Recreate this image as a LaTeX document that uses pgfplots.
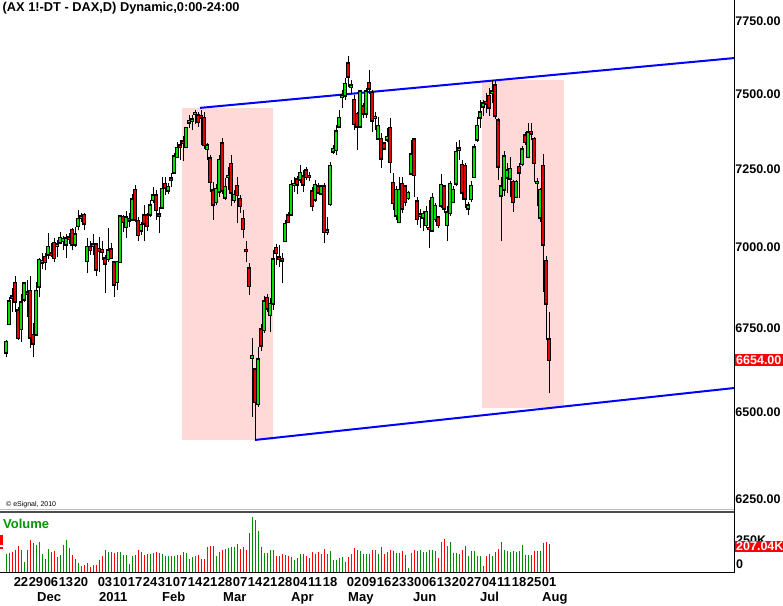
\documentclass[border=0pt]{standalone}
\usepackage{fontspec}
\setmainfont{Liberation Sans}
\usepackage{pgfplots}
\usepackage{pgfplotstable}
\pgfplotsset{compat=1.18}

\definecolor{candG}{RGB}{0,225,0}
\definecolor{candR}{RGB}{232,0,0}
\definecolor{volG}{RGB}{0,140,0}
\definecolor{volR}{RGB}{255,0,0}
\definecolor{shade}{RGB}{255,216,216}
\definecolor{trend}{RGB}{0,0,255}
\definecolor{volText}{RGB}{0,150,0}

\pgfplotstableread{
i o h l c v
0 6677 6714 6661 6707 131
1 6763 6846 6761 6830 143
2 6846 6871 6800 6843 148
3 6887 6909 6800 6832 165
4 6802 6815 6714 6721 190
5 6748 6854 6707 6827 160
6 6838 6892 6828 6885 74
7 6858 6897 6784 6856 160
8 6862 6911 6688 6722 234
9 6728 6766 6661 6704 215
10 6730 6890 6728 6862 197
11 6878 6965 6846 6959 220
12 6953 6981 6930 6956 136
13 6968 6983 6928 6955 99
14 6977 7044 6962 6999 168
15 6979 7012 6970 6977 148
16 7012 7028 6952 6967 155
17 7006 7023 6970 7008 111
18 7015 7047 7012 7028 123
19 7020 7034 6991 7024 197
20 7009 7041 6965 7026 234
21 7030 7045 7010 7027 178
22 7054 7061 6990 7009 123
23 7009 7064 7000 7039 99
24 7068 7117 7053 7088 67
25 7094 7108 7081 7097 42
26 7101 7108 7054 7075 49
27 6957 7028 6918 6999 67
28 6999 7018 6975 6991 37
29 7005 7042 6975 7008 49
30 7007 7012 6910 6930 49
31 6993 7033 6923 6989 91
32 6990 7020 6960 6986 116
33 6963 6975 6857 6950 160
34 6963 7059 6953 6988 148
35 6991 7014 6965 6966 148
36 6950 6955 6846 6885 141
37 6892 6957 6866 6953 148
38 6955 7096 6950 7096 145
39 7095 7102 7049 7081 123
40 7065 7113 7028 7092 123
41 7088 7108 7062 7086 57
42 7088 7169 7085 7150 116
43 7182 7198 7080 7088 123
44 7083 7096 7018 7039 160
45 7054 7081 7040 7069 148
46 7099 7134 7018 7075 123
47 7099 7110 7050 7067 136
48 7104 7150 7095 7131 136
49 7150 7191 7140 7163 141
50 7163 7182 7086 7118 145
51 7103 7127 7044 7101 141
52 7127 7226 7120 7185 136
53 7202 7226 7166 7191 116
54 7182 7205 7170 7191 116
55 7219 7236 7193 7217 121
56 7240 7302 7235 7291 116
57 7291 7340 7285 7318 123
58 7327 7346 7280 7325 123
59 7341 7359 7276 7339 145
60 7324 7390 7320 7384 141
61 7404 7428 7385 7407 99
62 7411 7430 7380 7413 111
63 7433 7446 7400 7435 118
64 7426 7440 7390 7406 123
65 7424 7446 7330 7422 99
66 7417 7440 7316 7330 94
67 7316 7335 7280 7326 185
68 7283 7296 7176 7209 190
69 7179 7209 7086 7137 190
70 7144 7202 7133 7185 116
71 7179 7296 7161 7278 148
72 7333 7352 7170 7182 165
73 7159 7220 7150 7191 173
74 7225 7258 7182 7227 180
75 7266 7296 7131 7176 185
76 7150 7182 7140 7166 185
77 7195 7226 7075 7168 210
78 7153 7165 7110 7132 173
79 7088 7118 7028 7058 185
80 6990 7018 6955 6988 165
81 6932 6949 6851 6879 289
82 6660 6719 6486 6665 407
83 6624 6624 6418 6530 387
84 6524 6694 6515 6653 303
85 6744 6763 6680 6697 185
86 6744 6848 6736 6829 141
87 6841 6854 6800 6810 141
88 6790 6841 6739 6823 160
89 6826 6991 6805 6960 160
90 6997 7010 6944 6983 116
91 6966 7007 6939 6964 116
92 6961 6981 6887 6959 131
93 7020 7086 7015 7073 123
94 7099 7112 7075 7081 116
95 7104 7215 7100 7198 111
96 7200 7226 7176 7202 86
97 7215 7228 7170 7201 106
98 7217 7263 7205 7236 131
99 7226 7247 7176 7201 131
100 7245 7258 7215 7226 116
101 7227 7240 7210 7225 106
102 7176 7193 7113 7132 148
103 7153 7215 7145 7198 131
104 7193 7205 7170 7176 145
105 7172 7200 7165 7193 131
106 7193 7204 7012 7049 173
107 7050 7096 7040 7052 131
108 7138 7274 7132 7260 153
109 7309 7330 7299 7315 91
110 7313 7396 7296 7374 91
111 7392 7446 7385 7417 106
112 7491 7513 7452 7493 111
113 7496 7552 7480 7532 74
114 7602 7628 7524 7560 111
115 7525 7547 7500 7527 131
116 7479 7496 7379 7399 178
117 7432 7440 7313 7392 165
118 7392 7513 7385 7507 153
119 7457 7470 7420 7434 136
120 7434 7520 7420 7507 131
121 7537 7581 7500 7519 136
122 7503 7513 7372 7412 160
123 7420 7440 7380 7422 160
124 7351 7423 7345 7392 136
125 7348 7368 7253 7286 185
126 7333 7340 7313 7319 131
127 7349 7385 7340 7355 148
128 7385 7418 7236 7274 160
129 7204 7236 7118 7141 153
130 7102 7195 7085 7182 141
131 7081 7226 7075 7182 141
132 7201 7226 7110 7124 153
133 7193 7200 7130 7145 123
134 7158 7180 7150 7172 32
135 7236 7346 7230 7296 141
136 7346 7352 7161 7231 160
137 7144 7161 7070 7090 153
138 7100 7120 7060 7102 160
139 7095 7115 7050 7105 145
140 7071 7131 7060 7111 145
141 7060 7150 6997 7059 165
142 7054 7172 7050 7156 160
143 7090 7140 7080 7130 153
144 7092 7100 7060 7071 106
145 7134 7235 7125 7198 220
146 7193 7200 7110 7124 246
147 7071 7130 7018 7109 192
148 7109 7210 7100 7201 220
149 7144 7195 7140 7182 141
150 7204 7340 7195 7305 141
151 7313 7346 7280 7317 131
152 7263 7280 7150 7176 165
153 7260 7271 7124 7156 190
154 7124 7145 7102 7131 116
155 7154 7210 7145 7195 153
156 7226 7334 7220 7320 153
157 7349 7423 7340 7392 118
158 7421 7479 7385 7436 121
159 7458 7480 7426 7466 47
160 7471 7503 7434 7468 118
161 7492 7519 7426 7455 136
162 7505 7547 7469 7507 118
163 7526 7547 7414 7428 148
164 7409 7418 7215 7260 173
165 7166 7226 7018 7193 220
166 7185 7308 7163 7289 165
167 7224 7269 7173 7244 153
168 7221 7291 7161 7250 148
169 7207 7215 7112 7144 153
170 7160 7215 7155 7207 148
171 7256 7269 7158 7240 153
172 7267 7326 7260 7313 197
173 7359 7374 7330 7340 123
174 7291 7401 7285 7370 123
175 7371 7401 7346 7369 123
176 7348 7355 7207 7271 155
177 7206 7221 7131 7208 155
178 7095 7188 7081 7182 153
179 7260 7298 6861 7009 215
180 6956 6972 6714 6826 220
181 6714 6799 6554 6654 207
}\ohlc

% build candle paths from the table
\def\wicks{}\def\gb{}\def\rb{}\def\gv{}\def\rv{}
\pgfplotstablegetrowsof{\ohlc}
\pgfmathtruncatemacro{\lastrow}{\pgfplotsretval-1}
\pgfplotsforeachungrouped \rr in {0,...,\lastrow}{%
  \pgfplotstablegetelem{\rr}{i}\of\ohlc\let\vI\pgfplotsretval
  \pgfplotstablegetelem{\rr}{o}\of\ohlc\let\vO\pgfplotsretval
  \pgfplotstablegetelem{\rr}{h}\of\ohlc\let\vH\pgfplotsretval
  \pgfplotstablegetelem{\rr}{l}\of\ohlc\let\vL\pgfplotsretval
  \pgfplotstablegetelem{\rr}{c}\of\ohlc\let\vC\pgfplotsretval
  \pgfplotstablegetelem{\rr}{v}\of\ohlc\let\vV\pgfplotsretval
  \xdef\wicks{\wicks (\vI,\vL) (\vI,\vH) (\vI,nan)}%
  \ifdim\vC pt<\vO pt
    \xdef\rb{\rb (\vI,\vO) (\vI,\vC) (\vI,nan)}%
    \xdef\rv{\rv (\vI,\vV)}%
  \else
    \xdef\gb{\gb (\vI,\vO) (\vI,\vC) (\vI,nan)}%
    \xdef\gv{\gv (\vI,\vV)}%
  \fi
}

\def\nanstr{nan}
\pgfplotsset{
  wickst/.style={black, line width=1pt, mark=none},
  bodyout/.style={black, line width=3.1pt, line cap=rect, mark=none},
  bodyG/.style={candG, line width=1.4pt, line cap=butt, mark=none},
  bodyR/.style={candR, line width=1.4pt, line cap=butt, mark=none},
  volGst/.style={ycomb, volG, line width=1pt, mark=none},
  volRst/.style={ycomb, volR, line width=1pt, mark=none},
}

\begin{document}
\begin{tikzpicture}[x=1pt,y=1pt]
\path[use as bounding box] (0,0) rectangle (783,605);

% ---------- price panel (logarithmic price scale) ----------
\begin{axis}[
  at={(0pt,96pt)}, anchor=south west,
  scale only axis, width=734pt, height=509pt,
  xmin=-2, xmax=242.6667,
  y coord trafo/.code={\edef\argtmp{#1}\ifx\argtmp\nanstr\def\pgfmathresult{nan}\else\pgfmathparse{ln(#1)*1000}\fi},
  y coord inv trafo/.code={\pgfmathparse{exp(#1/1000)}},
  ymin=6221.9, ymax=7823.6,
  axis line style={draw=none},
  xtick=\empty,
  ytick pos=right, yticklabel pos=right,
  ytick={6250,6500,6750,7000,7250,7500,7750},
  yticklabels={6250.00,6500.00,6750.00,7000.00,7250.00,7500.00,7750.00},
  major tick length=0pt, minor tick length=0pt,
  yticklabel style={font=\bfseries\fontsize{12.5}{14}\selectfont, anchor=west, inner sep=0pt, xshift=1.2pt},
  unbounded coords=jump,
  clip=true,
]
\addplot[fill=shade, draw=none] coordinates {(58.67,6418) (89,6418) (89,7452) (58.67,7452)};
\addplot[fill=shade, draw=none] coordinates {(158.67,6512) (186,6512) (186,7545) (158.67,7545)};
\addplot[trend, line width=2pt] coordinates {(64.67,7452.4) (242.67,7622)};
\addplot[trend, line width=2pt] coordinates {(83,6418.2) (242.67,6570)};
\edef\tmp{\noexpand\addplot[wickst] coordinates {\wicks};}\tmp
\edef\tmp{\noexpand\addplot[bodyout] coordinates {\gb\rb};}\tmp
\edef\tmp{\noexpand\addplot[bodyG] coordinates {\gb};}\tmp
\edef\tmp{\noexpand\addplot[bodyR] coordinates {\rb};}\tmp
\end{axis}

% ---------- volume panel ----------
\begin{axis}[
  at={(0pt,33pt)}, anchor=south west,
  scale only axis, width=734pt, height=59pt,
  xmin=-2, xmax=242.6667, ymin=0, ymax=436.6,
  axis line style={draw=none},
  ytick=\empty,
  xtick={5,10,15,20,25,33,38,43,48,53,58,63,68,73,78,83,88,93,98,103,108,116,121,126,131,136,141,146,151,156,161,166,171,176,181},
  xticklabels={22,29,06,13,20,03,10,17,24,31,07,14,21,28,07,14,21,28,04,11,18,02,09,16,23,30,06,13,20,27,04,11,18,25,01},
  major tick length=0pt,
  xticklabel style={font=\bfseries\fontsize{13}{15}\selectfont, anchor=center, inner sep=0pt, yshift=-10pt},
  clip=false,
]
\edef\tmp{\noexpand\addplot[volGst] coordinates {\gv};}\tmp
\edef\tmp{\noexpand\addplot[volRst] coordinates {\rv};}\tmp
\end{axis}

% frame lines and separators
\draw[black, line width=1pt] (734.5,33) -- (734.5,605);
\draw[black, line width=1pt] (0,33) -- (734.5,33);
\draw[black!25, line width=1pt] (0,95.5) -- (734,95.5);
\draw[black!70, line width=1.3pt] (0,93) -- (734,93);

% texts
\node[anchor=base west, inner sep=0pt, font=\bfseries\fontsize{12.8}{14}\selectfont] at (2.5,593.5) {(AX 1!-DT - DAX,D) Dynamic,0:00-24:00};
\node[anchor=base west, inner sep=0pt, font=\fontsize{7}{8}\selectfont] at (6,98.5) {\textcopyright\ eSignal, 2010};
\node[anchor=base west, inner sep=0pt, font=\bfseries\fontsize{13}{15}\selectfont, text=volText] at (3,77) {Volume};
\fill[red] (0,60) rectangle (2.5,70);
\fill[red] (0,56.5) rectangle (2.5,58.5);

\foreach \mx/\mn in {37/Dec,99/2011,162/Feb,223/Mar,291/Apr,348/May,413/Jun,480/Jul,542/Aug}{
  \node[anchor=base west, inner sep=0pt, font=\bfseries\fontsize{13}{15}\selectfont] at (\mx,3.5) {\mn};
}

% right-hand price flags
\fill[red] (735,239) rectangle (783,250.5);
\node[anchor=west, inner sep=0pt, text=white, font=\bfseries\fontsize{12.5}{14}\selectfont] at (736,244.8) {6654.00};
\node[anchor=west, inner sep=0pt, font=\bfseries\fontsize{12.5}{14}\selectfont] at (736,64.5) {250K};
\fill[red] (735,53.3) rectangle (783,64);
\node[anchor=west, inner sep=0pt, text=white, font=\bfseries\fontsize{12.5}{14}\selectfont] at (736,58.6) {207.04K};
\node[anchor=west, inner sep=0pt, font=\bfseries\fontsize{12.5}{14}\selectfont] at (736,41) {0};
\end{tikzpicture}
\end{document}
